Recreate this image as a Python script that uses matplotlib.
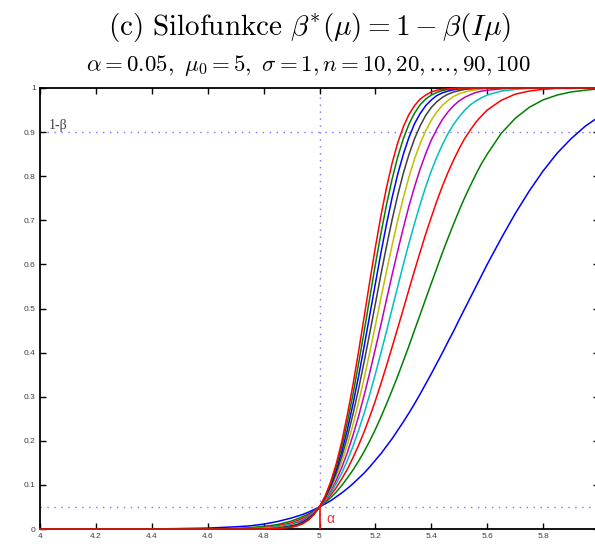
import matplotlib
matplotlib.use("Agg")
import matplotlib.pyplot as plt
import numpy as np

# mu grid used for all curves
mu = [4.0, 4.2, 4.4, 4.5, 4.6, 4.7, 4.75, 4.8, 4.85,
      4.9, 4.92, 4.94, 4.96, 4.98, 5.0, 5.02, 5.04, 5.06, 5.08,
      5.1, 5.12, 5.14, 5.16, 5.18, 5.2, 5.22, 5.24, 5.26, 5.28,
      5.3, 5.32, 5.34, 5.36, 5.38, 5.4, 5.42, 5.44, 5.46, 5.48,
      5.5, 5.52, 5.54, 5.56, 5.58, 5.6,
      5.65, 5.7, 5.75, 5.8, 5.85, 5.9, 5.95, 6.0]

# power values (per mille) for n = 10, 20, ..., 100
pw10 = [0, 0, 0, 1, 2, 5, 7, 11, 17, 25, 29, 33, 38, 44, 50, 57, 64, 73, 82,
        92, 103, 115, 127, 141, 156, 171, 188, 205, 224, 243, 263, 284, 306, 329,
        352, 376, 400, 425, 449, 475, 500, 525, 550, 575, 600,
        659, 715, 766, 812, 852, 885, 913, 935]
pw20 = [0, 0, 0, 0, 0, 1, 3, 6, 10, 18, 23, 28, 34, 41, 50, 60, 71, 84, 99,
        116, 134, 154, 176, 200, 226, 254, 284, 315, 347, 381, 415, 451, 486, 522,
        557, 592, 627, 660, 692, 723, 752, 779, 805, 829, 850,
        897, 931, 956, 973, 984, 991, 995, 998]
pw30 = [0, 0, 0, 0, 0, 1, 1, 3, 7, 14, 19, 24, 31, 40, 50, 62, 77, 94, 114,
        136, 162, 190, 221, 255, 291, 330, 371, 413, 456, 499, 543, 586, 628, 669,
        707, 744, 778, 809, 837, 863, 886, 905, 923, 937, 950,
        972, 986, 993, 997, 999, 999, 1000, 1000]
pw40 = [0, 0, 0, 0, 0, 0, 1, 2, 5, 11, 16, 21, 29, 38, 50, 64, 82, 103, 127,
        156, 188, 224, 263, 306, 352, 400, 449, 500, 550, 600, 648, 693, 736, 776,
        812, 844, 872, 897, 918, 935, 950, 962, 971, 978, 984,
        993, 997, 999, 1000, 1000, 1000, 1000, 1000]
pw50 = [0, 0, 0, 0, 0, 0, 0, 1, 3, 9, 14, 19, 27, 37, 50, 66, 87, 111, 140,
        174, 213, 256, 304, 355, 409, 464, 521, 577, 631, 683, 732, 776, 816, 851,
        882, 907, 929, 946, 960, 971, 979, 985, 990, 993, 995,
        998, 1000, 1000, 1000, 1000, 1000, 1000, 1000]
pw60 = [0, 0, 0, 0, 0, 0, 0, 1, 3, 8, 12, 17, 25, 36, 50, 68, 91, 119, 153,
        192, 237, 288, 343, 401, 462, 524, 585, 644, 700, 751, 798, 839, 874, 903,
        927, 946, 961, 972, 981, 987, 991, 994, 996, 998, 999,
        1000, 1000, 1000, 1000, 1000, 1000, 1000, 1000]
pw70 = [0, 0, 0, 0, 0, 0, 0, 0, 2, 7, 10, 16, 24, 35, 50, 70, 95, 127, 165,
        209, 261, 318, 380, 445, 511, 578, 642, 702, 757, 807, 849, 885, 914, 938,
        956, 969, 979, 986, 991, 994, 997, 998, 999, 999, 1000,
        1000, 1000, 1000, 1000, 1000, 1000, 1000, 1000]
pw80 = [0, 0, 0, 0, 0, 0, 0, 0, 1, 6, 9, 15, 23, 34, 50, 71, 99, 134, 176,
        226, 284, 347, 415, 486, 557, 627, 692, 752, 805, 850, 888, 919, 942, 960,
        973, 983, 989, 993, 996, 998, 999, 999, 1000, 1000, 1000,
        1000, 1000, 1000, 1000, 1000, 1000, 1000, 1000]
pw90 = [0, 0, 0, 0, 0, 0, 0, 0, 1, 5, 8, 13, 21, 33, 50, 73, 103, 141, 188,
        243, 306, 376, 449, 525, 600, 671, 736, 794, 844, 885, 918, 943, 962, 975,
        984, 990, 994, 997, 998, 999, 999, 1000, 1000, 1000, 1000,
        1000, 1000, 1000, 1000, 1000, 1000, 1000, 1000]
pw100 = [0, 0, 0, 0, 0, 0, 0, 0, 1, 4, 7, 12, 20, 33, 50, 74, 107, 148, 199,
         260, 328, 403, 482, 562, 639, 711, 775, 830, 876, 912, 940, 960, 975, 984,
         991, 995, 997, 998, 999, 1000, 1000, 1000, 1000, 1000, 1000,
         1000, 1000, 1000, 1000, 1000, 1000, 1000, 1000]

curves = [pw10, pw20, pw30, pw40, pw50, pw60, pw70, pw80, pw90, pw100]
# old matlab color order
colors = [(0, 0, 1), (0, 0.5, 0), (1, 0, 0), (0, 0.75, 0.75), (0.75, 0, 0.75),
          (0.75, 0.75, 0), (0.25, 0.25, 0.25), (0, 0, 1), (0, 0.5, 0), (1, 0, 0)]

alpha = 0.05
mu0 = 5
level = 0.9

xticks = [4, 4.2, 4.4, 4.6, 4.8, 5, 5.2, 5.4, 5.6, 5.8, 6]
xlabels = ['4', '4.2', '4.4', '4.6', '4.8', '5', '5.2', '5.4', '5.6', '5.8', '']
yticks = [0, 0.1, 0.2, 0.3, 0.4, 0.5, 0.6, 0.7, 0.8, 0.9, 1]

plt.rcParams['mathtext.fontset'] = 'cm'

fig = plt.figure(figsize=(5.95, 5.46), dpi=100)
ax = fig.add_axes([40 / 595, 17 / 546, 559 / 595, 441 / 546])

for pw, c in zip(curves, colors):
    ax.plot(mu, np.array(pw) / 1000.0, color=c, lw=1.1, zorder=3, clip_on=False)

dot = dict(color=(0.45, 0.45, 1.0), lw=1.0, linestyle=(0, (1, 4)), zorder=1)
ax.plot([4, 6], [level, level], **dot)
ax.plot([4, 6], [alpha, alpha], **dot)
ax.plot([mu0, mu0], [0, 1], **dot)
ax.plot([mu0, mu0], [0, alpha], color=(0.9, 0.1, 0.1), lw=1.3, zorder=4)

ax.text(5.025, 0.022, 'α', color=(0.95, 0.2, 0.2), fontsize=10,
        family='Liberation Sans', va='center', ha='left')
ax.text(4.03, 0.915, '1-β', color='0.25', fontsize=10,
        family='Liberation Serif', va='center', ha='left')

ax.set_xlim(4, 6)
ax.set_ylim(0, 1)
ax.set_xticks(xticks)
ax.set_xticklabels(xlabels)
ax.set_yticks(yticks)
ax.set_yticklabels(['%g' % t for t in yticks])
ax.tick_params(direction='in', length=4, width=1, top=True, right=True,
               labelsize=6, labelcolor='0.25', pad=3)
for lab in ax.get_xticklabels() + ax.get_yticklabels():
    lab.set_family('Liberation Sans')
for s in ax.spines.values():
    s.set_linewidth(1.3)

fig.text(310 / 595, 1 - 28 / 546,
         r'$\mathrm{(c)\ Silofunkce}\ \beta^{*}(\mu) = 1 - \beta(I\mu)$',
         ha='center', va='center', fontsize=21)
fig.text(308 / 595, 1 - 66 / 546,
         r'$\alpha = 0.05,\ \mu_0 = 5,\ \sigma = 1, n = 10, 20, \ldots, 90, 100$',
         ha='center', va='center', fontsize=16.5)

fig.savefig('out.png', dpi=100)
